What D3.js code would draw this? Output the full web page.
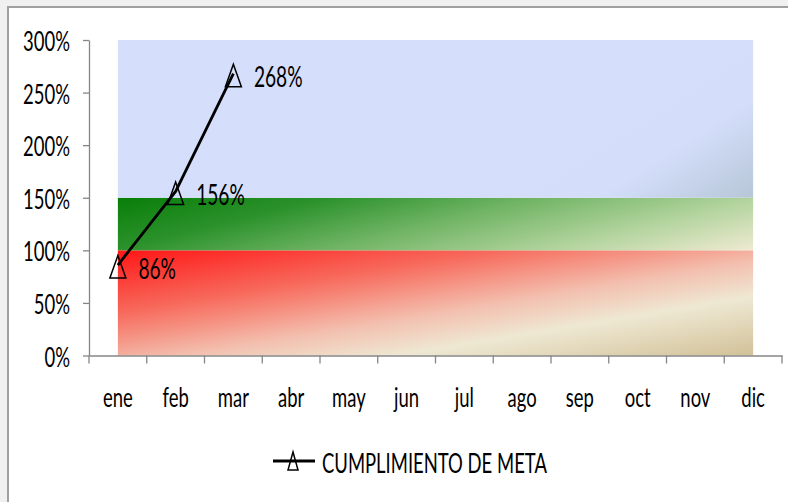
<!DOCTYPE html>
<html>
<head>
<meta charset="utf-8">
<script src="https://cdn.jsdelivr.net/npm/d3@7"></script>
<style>
  body { margin: 0; background: #f0f0f0; }
  svg { display: block; }
  text { font-family: Lato, "Open Sans", sans-serif; fill: #000; }
</style>
</head>
<body>
<svg width="788" height="502"></svg>
<script>
// Data
var months = ["ene", "feb", "mar", "abr", "may", "jun", "jul", "ago", "sep", "oct", "nov", "dic"];
var metaMonths = ["ene", "feb", "mar"];
var metaValues = [0.86, 1.56, 2.68];
var yTicks = [0, 0.5, 1, 1.5, 2, 2.5, 3];
var bandLows = [0, 1, 1.5];
var bandHighs = [1, 1.5, 3];
var bandIds = ["gRed", "gGreen", "gBlue"];
var seriesName = "CUMPLIMIENTO DE META";

var svg = d3.select("svg"),
    sx = 0.71, sy = 1.04,
    fontSize = 26;

// narrow the glyphs the way the original (squeezed) picture shows them
function squeeze(sel, dx, dy) {
    sel.attr("x", 0).attr("y", 0).attr("dy", null)
        .attr("transform", function(d) {
            var ox = typeof dx === "function" ? dx(d) : dx,
                oy = typeof dy === "function" ? dy(d) : dy;
            return "translate(" + ox + "," + oy + ") scale(" + sx + "," + sy + ")";
        });
}

// chart frame
svg.append("rect")
    .attr("x", 8).attr("y", 7)
    .attr("width", 800).attr("height", 520)
    .attr("fill", "#fff")
    .attr("stroke", "#a0a0a0")
    .attr("stroke-width", 2);

// gradients for the bands
var defs = svg.append("defs");
var gradDir = {
    gRed: [1, 1],
    gGreen: [1.2, 0.4],
    gBlue: [1.21, 0.47]
};
var gradStops = {
    gRed: [[0, "#ff1616"], [0.3, "#f76a5c"], [0.55, "#f3bfae"], [0.72, "#eee8d3"], [1, "#d2c198"]],
    gGreen: [[0, "#087e08"], [0.25, "#2c922c"], [0.5, "#72b566"], [0.76, "#b3d49e"], [1, "#efead2"]],
    gBlue: [[0, "#d5dffc"], [0.82, "#d4defb"], [1, "#b6c6d6"]]
};
bandIds.forEach(function(id) {
    var lg = defs.append("linearGradient")
        .attr("id", id)
        .attr("x1", 0).attr("y1", 0)
        .attr("x2", gradDir[id][0]).attr("y2", gradDir[id][1]);
    lg.selectAll("stop")
        .data(gradStops[id])
        .join("stop")
        .attr("offset", d => d[0])
        .attr("stop-color", d => d[1]);
});

// Scales
var x = d3.scaleBand().domain(months).range([89, 782]).padding(0);
var y = d3.scaleLinear().domain([0, 3]).range([355.5, 40]);
var half = x.bandwidth() / 2;

// Bands
svg.append("g")
    .selectAll("rect")
    .data(bandLows)
    .join("rect")
    .attr("x", x(months[0]) + half)
    .attr("width", x(months[months.length - 1]) - x(months[0]))
    .attr("y", (d, i) => y(bandHighs[i]))
    .attr("height", (d, i) => y(d) - y(bandHighs[i]))
    .attr("fill", (d, i) => "url(#" + bandIds[i] + ")");

// Y axis
var yAxis = svg.append("g")
    .attr("transform", "translate(89,0)")
    .call(d3.axisLeft(y).tickValues(yTicks).tickFormat(d3.format(".0%")).tickSize(6).tickSizeOuter(0));
yAxis.select(".domain").attr("stroke", "#868686").attr("stroke-width", 1.3);
yAxis.selectAll(".tick line").attr("stroke", "#868686").attr("stroke-width", 1.3);
yAxis.selectAll("text")
    .attr("font-size", fontSize)
    .attr("font-family", null)
    .call(squeeze, -19, 10.5);

// X axis
var xAxis = svg.append("g")
    .attr("transform", "translate(0,355.5)")
    .call(d3.axisBottom(x).tickSize(0).tickSizeOuter(0));
xAxis.select(".domain").attr("stroke", "#868686").attr("stroke-width", 1.3);
xAxis.selectAll("text")
    .attr("font-size", fontSize)
    .attr("font-family", null)
    .call(squeeze, 0, 51);
xAxis.selectAll(".bound")
    .data(months.map(m => x(m)).concat([x.range()[1]]))
    .join("line")
    .attr("class", "bound")
    .attr("x1", d => d).attr("x2", d => d)
    .attr("y1", 0).attr("y2", 8)
    .attr("stroke", "#868686")
    .attr("stroke-width", 1.3);

// Series line
var pts = metaMonths.map((m, i) => [x(m) + half, y(metaValues[i])]);
svg.append("path")
    .datum(pts)
    .attr("fill", "none")
    .attr("stroke", "#000")
    .attr("stroke-width", 2.8)
    .attr("d", d3.line());

// Triangle markers
var tri = "M0,-9.5L8,13L-8,13Z";
svg.append("g")
    .selectAll("path")
    .data(pts)
    .join("path")
    .attr("transform", d => "translate(" + d[0] + "," + d[1] + ")")
    .attr("d", tri)
    .attr("fill", "none")
    .attr("stroke", "#000")
    .attr("stroke-width", 1.5);

// Data labels
svg.append("g")
    .selectAll("text")
    .data(pts)
    .join("text")
    .attr("font-size", fontSize + 1)
    .text((d, i) => d3.format(".0%")(metaValues[i]))
    .call(squeeze, d => d[0] + 20.5, d => d[1] + 13.5);

// Legend
var legend = svg.append("g").attr("transform", "translate(273,461)");
legend.append("line")
    .attr("x1", 0).attr("x2", 42)
    .attr("stroke", "#000")
    .attr("stroke-width", 2.8);
legend.append("path")
    .attr("transform", "translate(20,0)")
    .attr("d", "M0,-9L5,9L-5,9Z")
    .attr("fill", "none")
    .attr("stroke", "#000")
    .attr("stroke-width", 1.5);
legend.append("text")
    .attr("font-size", fontSize)
    .text(seriesName)
    .call(squeeze, 49, 12);
</script>
</body>
</html>
